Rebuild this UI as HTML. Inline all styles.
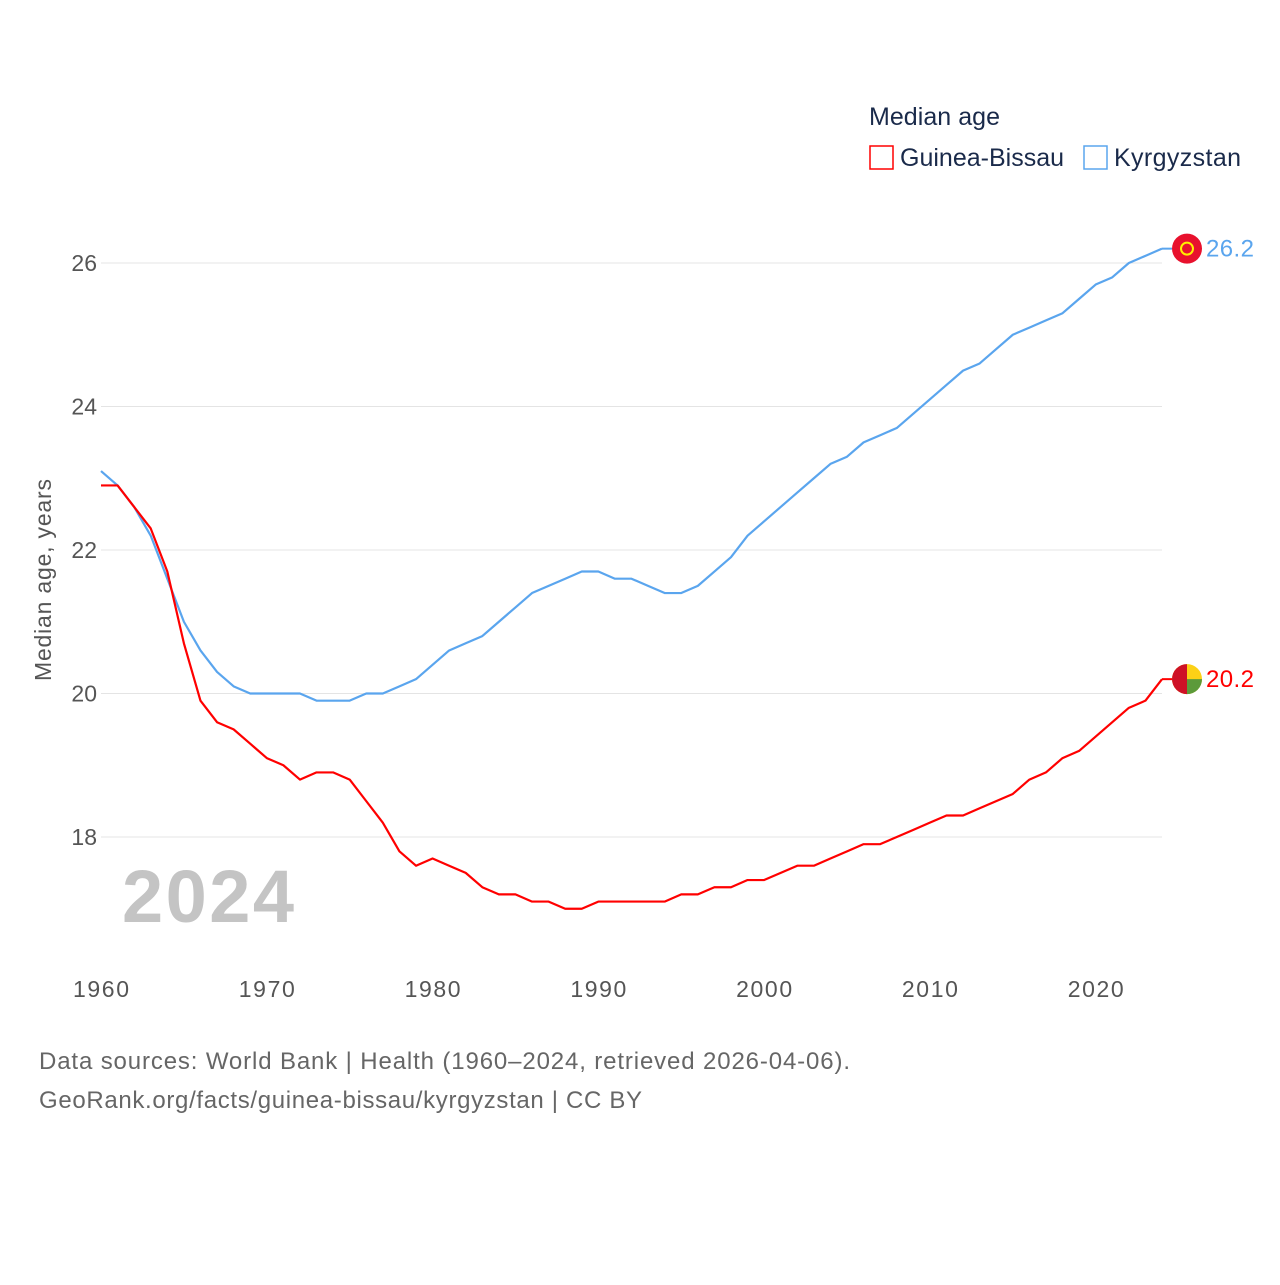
<!DOCTYPE html>
<html><head><meta charset="utf-8"><style>
body{margin:0;background:#fff;font-family:"Liberation Sans",sans-serif}
svg text{font-family:"Liberation Sans",sans-serif}
</style></head><body>
<svg width="1280" height="1280" xmlns="http://www.w3.org/2000/svg" id="chart">
<rect width="1280" height="1280" fill="#fff"/>
<text x="869" y="125" font-size="25" fill="#1a2a4a" textLength="131">Median age</text>
<g><rect x="870" y="146" width="23" height="23" fill="none" stroke="#f00" stroke-width="1.5"/><text x="900" y="166" font-size="25" fill="#1a2a4a" textLength="164">Guinea-Bissau</text></g>
<g><rect x="1084" y="146" width="23" height="23" fill="none" stroke="#5aa5ee" stroke-width="1.5"/><text x="1114" y="166" font-size="25" fill="#1a2a4a" textLength="127">Kyrgyzstan</text></g>
<text transform="translate(51,580) rotate(-90)" text-anchor="middle" font-size="23" fill="#555" textLength="202">Median age, years</text>
<text x="122" y="922" font-size="74" font-weight="bold" fill="#c4c4c4" textLength="172">2024</text>
<g id="grid"></g><g id="series"></g>
<text x="39" y="1069" font-size="24" fill="#666" textLength="811">Data sources: World Bank | Health (1960–2024, retrieved 2026-04-06).</text>
<text x="39" y="1108" font-size="24" fill="#666" textLength="603">GeoRank.org/facts/guinea-bissau/kyrgyzstan | CC BY</text>
</svg>
<script>
const years=[];for(let y=1960;y<=2024;y++)years.push(y);
const kyrgyzstan=[23.1,22.9,22.6,22.2,21.6,21.0,20.6,20.3,20.1,20.0,20.0,20.0,20.0,19.9,19.9,19.9,20.0,20.0,20.1,20.2,20.4,20.6,20.7,20.8,21.0,21.2,21.4,21.5,21.6,21.7,21.7,21.6,21.6,21.5,21.4,21.4,21.5,21.7,21.9,22.2,22.4,22.6,22.8,23.0,23.2,23.3,23.5,23.6,23.7,23.9,24.1,24.3,24.5,24.6,24.8,25.0,25.1,25.2,25.3,25.5,25.7,25.8,26.0,26.1,26.2];
const guineaBissau=[22.9,22.9,22.6,22.3,21.7,20.7,19.9,19.6,19.5,19.3,19.1,19.0,18.8,18.9,18.9,18.8,18.5,18.2,17.8,17.6,17.7,17.6,17.5,17.3,17.2,17.2,17.1,17.1,17.0,17.0,17.1,17.1,17.1,17.1,17.1,17.2,17.2,17.3,17.3,17.4,17.4,17.5,17.6,17.6,17.7,17.8,17.9,17.9,18.0,18.1,18.2,18.3,18.3,18.4,18.5,18.6,18.8,18.9,19.1,19.2,19.4,19.6,19.8,19.9,20.2];
const yTicks=[18,20,22,24,26];
const xTicks=[1960,1970,1980,1990,2000,2010,2020];
const NS="http://www.w3.org/2000/svg";
const xs=y=>101+(y-1960)*(1162-101)/64;
const ys=v=>837-(v-18)*(837-263)/8;
const grid=document.getElementById('grid'),ser=document.getElementById('series');
function mk(tag,attrs,parent){const e=document.createElementNS(NS,tag);for(const k in attrs)e.setAttribute(k,attrs[k]);parent.appendChild(e);return e;}
yTicks.forEach(t=>{
 const l=mk('line',{x1:101,x2:1162,y1:ys(t),y2:ys(t),stroke:'#e4e4e4','stroke-width':1},grid);
 
 
 const tx=mk('text',{x:97,y:ys(t)+8,'text-anchor':'end','font-size':23,fill:'#555'},grid);
 
 
 tx.textContent=t;
});
xTicks.forEach(t=>{
 const tx=mk('text',{x:xs(t),y:997,'text-anchor':'middle','font-size':23,fill:'#555',textLength:56},grid);
 
 
 tx.textContent=t;
});
function draw(vals,color,name){
 let d='M'+xs(1960)+','+ys(vals[0]);
 vals.forEach((v,i)=>d+=' L'+xs(years[i])+','+ys(v));
 const p=mk('path',{d:d,fill:'none',stroke:color,'stroke-width':2.2,'stroke-linejoin':'round'},ser);
 
 
 const last=vals[vals.length-1],cy=ys(last);
 mk('line',{x1:xs(2024),x2:1172,y1:cy,y2:cy,stroke:color,'stroke-width':2},ser);
 const c=mk('circle',{cx:1187,cy:cy,r:15,fill:name==='kyrgyzstan'?'#e8112d':'#fcd116'},ser);
 
 
 if(name==='kyrgyzstan'){mk('circle',{cx:1187,cy:cy,r:6,fill:'none',stroke:'#ffef00','stroke-width':2},ser);}
 else{mk('path',{d:`M1187,${cy} L1202,${cy} A15,15 0 0,1 1187,${cy+15} Z`,fill:'#5c9a3a'},ser);mk('path',{d:`M1187,${cy-15} A15,15 0 0,0 1187,${cy+15} Z`,fill:'#ce1126'},ser);}
 const t=mk('text',{x:1206,y:cy+8,'font-size':24,fill:color,textLength:48},ser);
 
 
 t.textContent=last.toFixed(1);
}
draw(kyrgyzstan,'#5aa5ee','kyrgyzstan');
draw(guineaBissau,'#f00','guinea-bissau');
</script>
</body></html>
